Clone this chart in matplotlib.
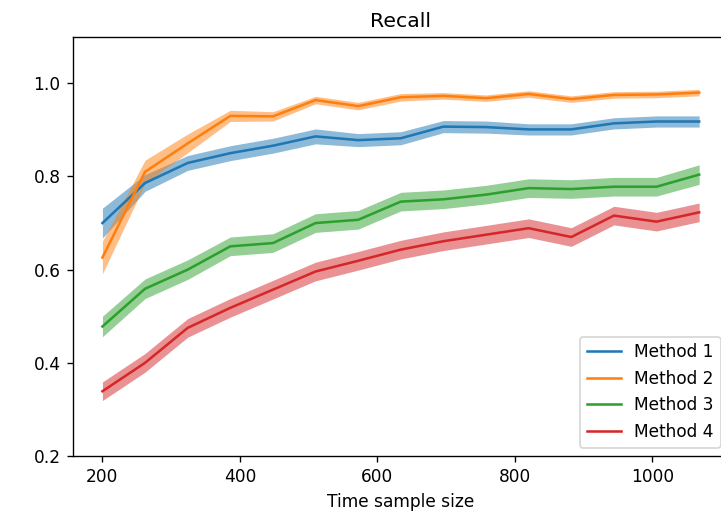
import numpy as np
import matplotlib
matplotlib.use("Agg")
import matplotlib.pyplot as plt

sample_sizes = [200, 262, 324, 386, 448, 510, 572, 634, 696, 758, 820, 882, 944, 1006, 1068]

method1 = [0.700, 0.786, 0.829, 0.850, 0.866, 0.886, 0.878, 0.882, 0.907, 0.906, 0.901, 0.901, 0.914, 0.918, 0.918]
method2 = [0.626, 0.810, 0.871, 0.930, 0.929, 0.964, 0.951, 0.970, 0.973, 0.968, 0.977, 0.966, 0.975, 0.976, 0.980]
method3 = [0.478, 0.559, 0.600, 0.650, 0.657, 0.700, 0.707, 0.746, 0.751, 0.761, 0.775, 0.773, 0.778, 0.778, 0.804]
method4 = [0.339, 0.400, 0.475, 0.518, 0.557, 0.596, 0.619, 0.643, 0.661, 0.675, 0.689, 0.670, 0.716, 0.703, 0.723]

err1 = [0.032, 0.018, 0.016, 0.016, 0.016, 0.016, 0.014, 0.014, 0.013, 0.013, 0.012, 0.012, 0.012, 0.012, 0.012]
err2 = [0.035, 0.025, 0.020, 0.012, 0.010, 0.008, 0.008, 0.008, 0.007, 0.007, 0.007, 0.007, 0.007, 0.007, 0.007]
err3 = [0.022, 0.021, 0.021, 0.020, 0.020, 0.020, 0.020, 0.020, 0.020, 0.020, 0.020, 0.020, 0.020, 0.020, 0.021]
err4 = [0.020, 0.020, 0.020, 0.020, 0.020, 0.020, 0.020, 0.020, 0.020, 0.020, 0.020, 0.020, 0.020, 0.020, 0.020]

labels = ["Method 1", "Method 2", "Method 3", "Method 4"]
colors = ["#1f77b4", "#ff7f0e", "#2ca02c", "#d62728"]

fig = plt.figure(figsize=(721 / 122, 513 / 122), dpi=122)
ax = fig.add_axes([72.6 / 721, 1 - 456 / 513, 656.4 / 721, (456 - 36.7) / 513])

x = np.array(sample_sizes)
for vals, errs, lab, c in zip([method1, method2, method3, method4],
                              [err1, err2, err3, err4], labels, colors):
    v = np.array(vals)
    e = np.array(errs)
    ax.plot(x, v, color=c, label=lab)
    ax.fill_between(x, v - e, v + e, color=c, alpha=0.5, linewidth=0)

ax.set_ylim(0.2, 1.1)
ax.set_yticks([0.2, 0.4, 0.6, 0.8, 1.0])
ax.set_xticks([200, 400, 600, 800, 1000])
ax.set_title("Recall")
ax.set_xlabel("Time sample size")
ax.legend(loc="lower right")

fig.savefig("out.png", dpi=122)
